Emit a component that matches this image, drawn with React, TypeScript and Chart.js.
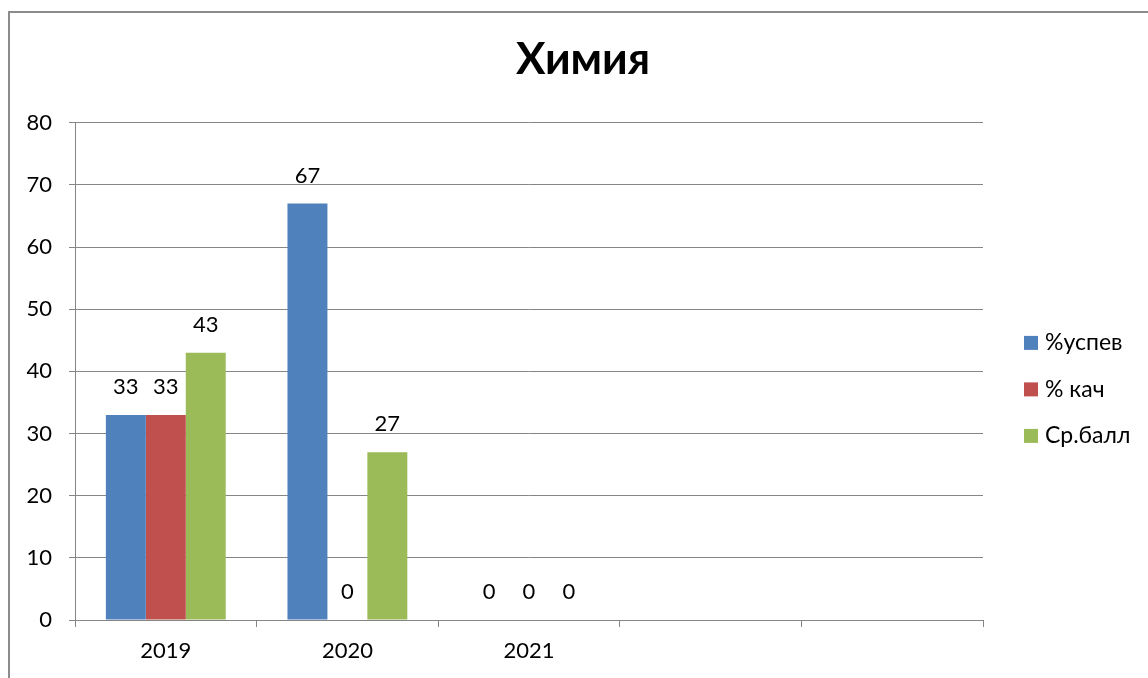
import React, { useEffect, useRef } from "react";
import { Chart, registerables } from "chart.js";

Chart.register(...registerables);

const categories = ["2019", "2020", "2021", "", ""];
const uspev = [33, 67, 0, null, null];
const kach = [33, 0, 0, null, null];
const srBall = [43, 27, 0, null, null];
const seriesNames = ["%успев", "% кач", "Ср.балл"];
const seriesColors = ["#4F81BD", "#C0504D", "#9BBB59"];
const titleText = "Химия";
const headerText = "предметам естественнонаучного цикла, предметы по выбору учащихся, 2019–2021 гг.";

const GRID = "#868686";
const FONT = "Lato";
const FS = 22;

const valueLabels = {
  id: "valueLabels",
  afterDatasetsDraw(chart: any) {
    const ctx = chart.ctx;
    ctx.save();
    ctx.font = `${FS}px ${FONT}`;
    ctx.fillStyle = "#000";
    ctx.textAlign = "center";
    ctx.textBaseline = "middle";
    chart.data.datasets.forEach((ds: any, i: number) => {
      const meta = chart.getDatasetMeta(i);
      meta.data.forEach((bar: any, j: number) => {
        const v = ds.data[j];
        if (v === null || v === undefined) return;
        ctx.fillText(String(v), bar.x, bar.y - 28);
      });
    });
    ctx.restore();
  },
};

const sideLegend = {
  id: "sideLegend",
  afterDraw(chart: any) {
    const ctx = chart.ctx;
    const area = chart.chartArea;
    const x = area.right + 41;
    const gap = 46.5;
    const yMid = (area.top + area.bottom) / 2 + 18;
    const n = chart.data.datasets.length;
    ctx.save();
    ctx.font = `23px ${FONT}`;
    ctx.textAlign = "left";
    ctx.textBaseline = "middle";
    chart.data.datasets.forEach((ds: any, i: number) => {
      const y = yMid + (i - (n - 1) / 2) * gap;
      ctx.fillStyle = ds.backgroundColor;
      ctx.fillRect(x, y - 7, 14, 14);
      ctx.fillStyle = "#000";
      ctx.fillText(ds.label, x + 21, y);
    });
    ctx.restore();
  },
};

export default function App() {
  const canvasRef = useRef<HTMLCanvasElement | null>(null);

  useEffect(() => {
    if (!canvasRef.current) return;
    Chart.defaults.font.family = FONT;
    const chart = new Chart(canvasRef.current, {
      type: "bar",
      data: {
        labels: categories,
        datasets: [uspev, kach, srBall].map((d, i) => ({
          label: seriesNames[i],
          data: d,
          backgroundColor: seriesColors[i],
          borderWidth: 0,
          categoryPercentage: 0.66,
          barPercentage: 1.0,
        })),
      },
      options: {
        animation: false,
        responsive: true,
        maintainAspectRatio: false,
        layout: { padding: { left: 18, right: 0, top: 0, bottom: 0 } },
        plugins: {
          legend: { display: false },
          tooltip: { enabled: false },
          title: {
            display: true,
            text: titleText,
            color: "#000",
            font: { family: FONT, size: 44, weight: "bold", lineHeight: 1.2 },
            padding: { top: 33, bottom: 37 },
          },
        },
        scales: {
          x: {
            grid: {
              offset: true,
              drawOnChartArea: false,
              drawTicks: true,
              tickLength: 7,
              color: GRID,
            },
            border: { color: GRID, width: 1 },
            ticks: { color: "#000", font: { size: FS }, padding: 11, maxRotation: 0 },
            afterFit: (s: any) => {
              s.height = 58;
            },
          },
          y: {
            min: 0,
            max: 80,
            ticks: { stepSize: 10, color: "#000", font: { size: FS }, padding: 17 },
            grid: { color: GRID, tickLength: 6, lineWidth: 1 },
            border: { color: GRID, width: 1 },
            afterFit: (s: any) => {
              s.width = 57;
            },
          },
          side: {
            type: "linear",
            position: "right",
            display: true,
            grid: { display: false, drawTicks: false },
            border: { display: false },
            ticks: { display: false },
            afterFit: (s: any) => {
              s.width = 165;
            },
          },
        },
      },
      plugins: [valueLabels, sideLegend],
    });
    return () => chart.destroy();
  }, []);

  return (
    <div style={{ position: "fixed", inset: 0, overflow: "hidden", background: "#fff" }}>
      <div
        style={{
          position: "absolute",
          left: 22,
          top: -25,
          whiteSpace: "nowrap",
          font: "bold 24px 'Liberation Serif'",
          lineHeight: "24px",
          color: "#000",
        }}
      >
        {headerText}
      </div>
      <div
        style={{
          position: "absolute",
          left: 8,
          top: 11,
          width: 1400,
          height: 900,
          border: "2px solid #8c8c8c",
          boxSizing: "border-box",
        }}
      />
      <div style={{ position: "absolute", left: 0, top: 0, width: 1148, height: 678 }}>
        <canvas ref={canvasRef} />
      </div>
    </div>
  );
}
